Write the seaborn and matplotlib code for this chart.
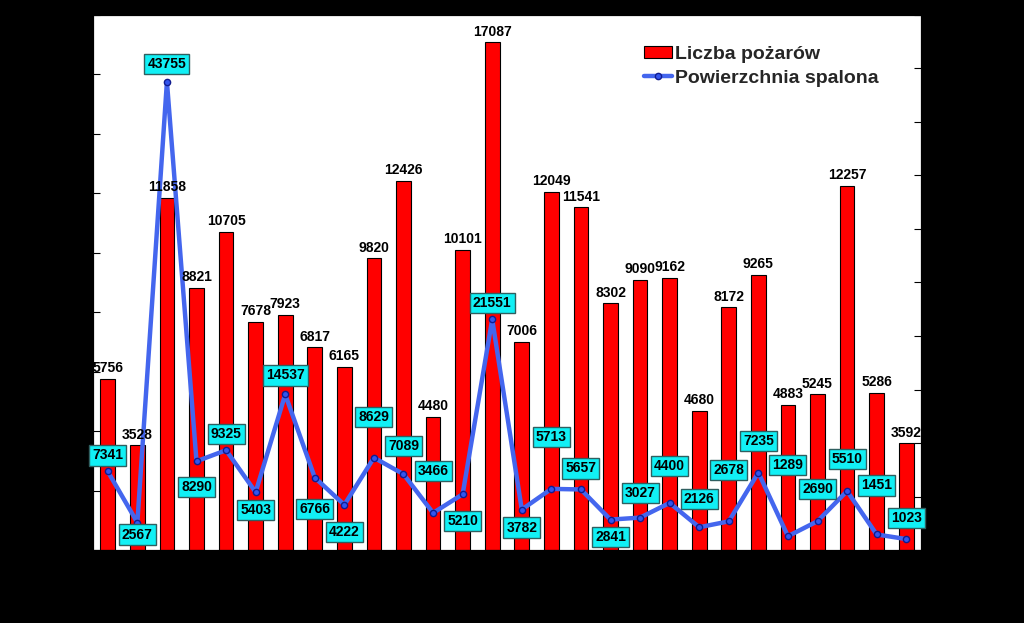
import matplotlib
matplotlib.use("Agg")
import numpy as np
import pandas as pd
import seaborn as sns
import matplotlib.pyplot as plt

# ---- data ----
years = ["1990", "1991", "1992", "1993", "1994", "1995", "1996", "1997", "1998", "1999",
         "2000", "2001", "2002", "2003", "2004", "2005", "2006", "2007", "2008", "2009",
         "2010", "2011", "2012", "2013", "2014", "2015", "2016", "2017"]
fires = [5756, 3528, 11858, 8821, 10705, 7678, 7923, 6817, 6165, 9820,
         12426, 4480, 10101, 17087, 7006, 12049, 11541, 8302, 9090, 9162,
         4680, 8172, 9265, 4883, 5245, 12257, 5286, 3592]
burned = [7341, 2567, 43755, 8290, 9325, 5403, 14537, 6766, 4222, 8629,
          7089, 3466, 5210, 21551, 3782, 5713, 5657, 2841, 3027, 4400,
          2126, 2678, 7235, 1289, 2690, 5510, 1451, 1023]
label_fires = "Liczba pożarów"
label_burned = "Powierzchnia spalona"

# label placement for the cyan boxes (pixels below(+)/above(-) the point)
box_offsets_px = [-16, 12, -18, 26, -16, 18, -19, 31, 27, -41,
                  -28, -42, 27, -16, 18, -52, -21, 17, -25, -37,
                  -28, -51, -32, -71, -32, -32, -49, -21]

sns.set_style("white")
plt.rcParams["font.family"] = ["Liberation Sans", "DejaVu Sans"]

W, H = 1024, 623
fig = plt.figure(figsize=(W / 100, H / 100), dpi=100, facecolor="black")
ax1 = fig.add_axes([93 / W, 1 - 550 / H, (921 - 93) / W, (550 - 15) / H])
ax1.set_facecolor("white")

df = pd.DataFrame({"rok": years, "pozary": fires, "powierzchnia": burned})
sns.barplot(data=df, x="rok", y="pozary", color="#FF0000", saturation=1,
            width=0.5, edgecolor="black", linewidth=0.8, ax=ax1)

n = len(years)
ax1.set_xlim(-0.5, n - 0.5)
ax1.set_ylim(0, 18000)
ax1.set_yticks(np.arange(0, 18001, 2000))
ax1.set_xticks(np.arange(1, n) - 0.5)
ax1.tick_params(axis="both", direction="in", length=5, color="black",
                labelleft=False, labelbottom=False)
ax1.set_xlabel("")
ax1.set_ylabel("")

ax2 = ax1.twinx()
xs = np.arange(n)
sns.lineplot(x=xs, y=burned, ax=ax2, color="#4466EE", linewidth=3.2,
             marker="o", markersize=4.5, markerfacecolor="#3355EE",
             markeredgecolor="#101C90", markeredgewidth=1.0, legend=False)
ax2.set_ylim(0, 50000)
ax2.set_yticks(np.arange(0, 50001, 5000))
ax2.tick_params(axis="y", direction="in", length=5, color="black", labelright=False)
ax2.set_ylabel("")

# bar value labels, drawn above the line
for i, v in enumerate(fires):
    ax2.annotate(str(v), (i, v), xycoords=ax1.transData, xytext=(0, 2.5),
                 textcoords="offset points", ha="center", va="bottom",
                 fontsize=10, fontweight="bold", color="black", zorder=6)

for i, v in enumerate(burned):
    ax2.annotate(str(v), (i, v), xytext=(0, -box_offsets_px[i] * 0.72),
                 textcoords="offset points", ha="center", va="center",
                 fontsize=10, fontweight="bold", color="black", zorder=5,
                 bbox=dict(boxstyle="square,pad=0.22", facecolor="#11F0F5",
                           edgecolor="#2F5F60", linewidth=1.0))

for ax in (ax1, ax2):
    for s in ax.spines.values():
        s.set_color("black")

bar_handle = ax1.patches[0]
line_handle = ax2.lines[0]
fig.legend([bar_handle, line_handle], [label_fires, label_burned],
           loc="upper left", bbox_to_anchor=(644 / W, 1 - 46 / H),
           frameon=False, prop=dict(weight="bold", size=14),
           handlelength=1.45, handleheight=0.6, handletextpad=0.15,
           labelspacing=0.35, borderaxespad=0, borderpad=0)

fig.savefig("out.png", dpi=100, facecolor="black")
